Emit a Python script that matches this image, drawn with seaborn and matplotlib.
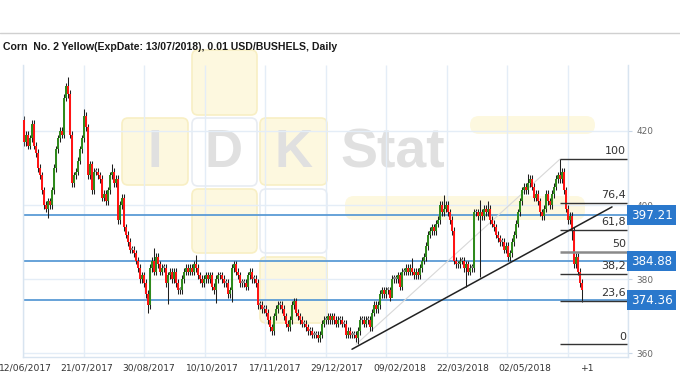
import numpy as np
import pandas as pd
import matplotlib
matplotlib.use("Agg")
import matplotlib.pyplot as plt
import matplotlib.transforms as mtransforms
from matplotlib.patches import FancyBboxPatch
import seaborn as sns

#---- D A T A ----

title = "Corn  No. 2 Yellow(ExpDate: 13/07/2018), 0.01 USD/BUSHELS, Daily"

first_open = 423
closes = [
    # jun - jul 2017
    417, 419, 416, 418, 422, 416, 414, 410, 408, 404, 400, 399, 401, 400, 404, 410, 415, 418, 420, 419,
    429, 432, 430, 419, 406, 408, 409, 412, 415, 418, 424, 421, 408, 411, 404, 409, 409, 408, 407,
    402, 403, 401, 404, 408, 409, 406, 407, 396, 400, 402, 394, 392, 390, 388, 388, 387, 385, 383, 380,
    381, 379, 376, 373,
    # sep - nov 2017
    383, 385, 382, 386, 384, 382, 383, 383, 379, 381, 382, 380, 382, 379, 377, 377, 380, 382, 383, 382,
    383, 382, 384, 383, 381, 380, 379, 380, 381, 380, 381, 378, 377, 380, 381, 381, 380, 379, 379, 376,
    377, 383, 384, 382, 381, 379, 379, 379, 378, 381, 382, 380, 380, 379,
    373, 373, 372, 372, 371, 369, 367, 366, 370, 372, 373, 373, 372, 370, 368, 367, 369, 373, 374, 371,
    370, 369, 368, 368, 367, 366, 366, 365, 365, 365, 364, 365, 368, 369, 369, 370, 369, 370, 369, 368,
    369, 369, 368, 368, 365, 366, 365, 365, 365, 364,
    # jan - mar 2018
    366, 369, 369, 368, 369, 369, 367, 371, 373, 372, 373, 376, 377, 376, 377, 377, 375, 380, 380, 380,
    381, 378, 382, 382, 383, 382, 383, 382, 381, 382, 381, 383, 385, 386, 389, 392, 393, 394, 393, 395,
    396, 400, 398, 399, 400, 398, 396, 393,
    # mar - jun 2018
    385, 384, 384, 385, 385, 383, 384, 382, 383, 383, 398, 398, 397, 398, 397, 399, 398, 399, 396, 395,
    394, 392, 391, 390, 390, 388, 389, 386, 387, 390, 392, 395, 398, 401, 404, 405, 404, 406, 407, 405,
    402, 403, 401, 398, 397, 399, 403, 401, 400, 403, 405, 407, 408, 407, 409, 404, 399, 396, 397, 393,
    384, 386, 382, 379, 377,
]
wick_highs = {22: 434.6, 30: 426, 44: 411, 65: 388.4, 86: 386.5, 194: 385.7,
              210: 402.7, 228: 401.5, 232: 401, 252: 408.4, 268: 412.4}
wick_lows = {12: 396.5, 62: 371, 72: 373.2, 96: 373.5, 104: 373.8, 167: 362.4,
             184: 375.5, 221: 377.8, 228: 380.5, 274: 390.5, 279: 373.8}

date_labels = ["12/06/2017", "21/07/2017", "30/08/2017", "10/10/2017", "17/11/2017",
               "29/12/2017", "09/02/2018", "22/03/2018", "02/05/2018", "+1"]
price_ticks = [360, 380, 400, 420]
levels = [397.21, 384.88, 374.36]

fib_names = ["100", "76,4", "61,8", "50", "38,2", "23,6", "0"]
fib_ratios = [1.0, 0.764, 0.618, 0.5, 0.382, 0.236, 0.0]
fib_low, fib_high = 362.4, 412.4
fib_low_idx, fib_high_idx = 166, 268

trend_x = [164, 294]
trend_y = [361.1, 399.5]

#---- L A Y O U T ----

date_pos = [0.5, 31.5, 62.5, 94, 125.5, 156.5, 188, 219.5, 250.5, 282]
grid_pos = [30.25 * k - 0.5 for k in range(11)]
x_lim = (-0.5, 302)
y_lim = (359, 437.8)

#---- M A I N ----

sns.set_theme(style="white")
plt.rcParams["font.family"] = ["DejaVu Sans"]

n = len(closes)
df = pd.DataFrame({"close": closes})
df["open"] = [first_open] + closes[:-1]
df["idx"] = np.arange(n)
df["top"] = df[["open", "close"]].max(axis=1)
df["bot"] = df[["open", "close"]].min(axis=1)
df["high"] = df["top"] + 1.0
df["low"] = df["bot"] - 1.0
for k, v in wick_highs.items():
    df.loc[k, "high"] = v
for k, v in wick_lows.items():
    df.loc[k, "low"] = v
df["color"] = np.where(df["close"] > df["open"], "#2f8a1c",
                       np.where(df["close"] < df["open"], "#ff1414", "#8a8a8a"))

fig = plt.figure(figsize=(6.8, 3.8), dpi=100)

# background layer in pixel coordinates (watermark, header line)
bg = fig.add_axes([0, 0, 1, 1], zorder=0)
bg.set_xlim(0, 680)
bg.set_ylim(380, 0)
bg.axis("off")
bg.plot([0, 680], [33, 33], color="#d0d0d0", lw=1)
bg.text(3, 47, title, fontsize=7.6, fontweight="bold", color="#1a1a1a", va="center",
        family=["Liberation Sans", "DejaVu Sans"])

yellow, ywedge = "#fdf8df", "#f8efc4"
white, wedge = "#ffffff", "#e8ecf2"
boxes = [(122, 118, 66, 67, yellow, ywedge), (192, 50, 65, 65, yellow, ywedge),
         (192, 118, 65, 68, white, wedge), (260, 118, 67, 67, yellow, ywedge),
         (192, 189, 65, 64, yellow, ywedge), (260, 189, 67, 64, white, wedge),
         (260, 257, 67, 66, yellow, ywedge)]
for x0, y0, w, h, fc, ec in boxes:
    bg.add_patch(FancyBboxPatch((x0 + 6, y0 + 6), w - 12, h - 12,
                                boxstyle="round,pad=6", fc=fc, ec=ec, lw=1.2))
for x0, y0, w, h in [(470, 116, 125, 18), (345, 196, 240, 24)]:
    bg.add_patch(FancyBboxPatch((x0 + 9, y0 + 9), w - 18, h - 18,
                                boxstyle="round,pad=9", fc=yellow, ec="none"))
wm_font = ["Liberation Sans", "DejaVu Sans"]
for ch, cx in zip("IDK", [155, 224, 293]):
    bg.text(cx, 153, ch, fontsize=38, fontweight="bold", color="#e0e0e0",
            ha="center", va="center", family=wm_font)
bg.text(340, 153, "Stat", fontsize=40, fontweight="bold", color="#e0e0e0",
        ha="left", va="center", family=wm_font)

# chart
ax = fig.add_axes([23 / 680, 23 / 380, 605 / 680, 292 / 380], zorder=1)
ax.set_facecolor("none")
ax.set_xlim(*x_lim)
ax.set_ylim(*y_lim)

grid_c = "#e4edf7"
ax.vlines(grid_pos, *y_lim, color=grid_c, lw=1, zorder=0)
ax.hlines(price_ticks, *x_lim, color=grid_c, lw=1, zorder=0)

ax.hlines(levels, *x_lim, color="#5b9bd5", lw=1.3, zorder=1.5)

# candles
ax.vlines(df["idx"], df["low"], df["high"], color="#1e1e1e", lw=0.75, zorder=2)
ax.bar(df["idx"], np.maximum(df["top"] - df["bot"], 0.5), bottom=df["bot"],
       width=0.95, color=df["color"], lw=0, zorder=3)

# fibonacci retracement
ax.plot([fib_low_idx, fib_high_idx], [fib_low, fib_high], color="#d8d8d8", lw=0.8, zorder=1.8)
for name, r in zip(fib_names, fib_ratios):
    lv = fib_low + r * (fib_high - fib_low)
    mid = name == "50"
    ax.hlines(lv, fib_high_idx, x_lim[1] - 0.7, color="#8a8a8a" if mid else "#333333",
              lw=1.8 if mid else 1, zorder=4)
    ax.annotate(name, (x_lim[1] - 1, lv), xytext=(0, 2), textcoords="offset points",
                ha="right", va="bottom", fontsize=8, color="#333333")

# trend line
sns.lineplot(x=trend_x, y=trend_y, color="#222222", lw=1.1, ax=ax, zorder=4)

# price boxes at the right
trans = mtransforms.blended_transform_factory(ax.transAxes, ax.transData)
for lv in levels:
    ax.text(1.005, lv, "{:.2f}".format(lv), transform=trans, ha="left", va="center",
            fontsize=8.6, color="white", clip_on=False, zorder=6,
            bbox=dict(boxstyle="square,pad=0.3", fc="#2a78cc", ec="none"))

# axes styling
ax.spines["top"].set_visible(False)
for s in ["left", "right", "bottom"]:
    ax.spines[s].set_color("#d8e4f0")
    ax.spines[s].set_linewidth(1)

ax.yaxis.tick_right()
ax.set_yticks(price_ticks)
ax.set_yticklabels([str(p) for p in price_ticks])
ax.tick_params(axis="y", length=3, width=0.8, color="#c8d6e6", labelsize=6.4,
               labelcolor="#666666", pad=3)

ax.set_xticks(date_pos)
ax.set_xticklabels(date_labels)
ax.set_xticks(grid_pos, minor=True)
ax.tick_params(axis="x", which="major", length=0, labelsize=6.6, labelcolor="#333333", pad=5)
ax.tick_params(axis="x", which="minor", length=3, width=0.8, color="#c8d6e6")
ax.set_xlabel("")
ax.set_ylabel("")

fig.savefig("out.png", dpi=100)
